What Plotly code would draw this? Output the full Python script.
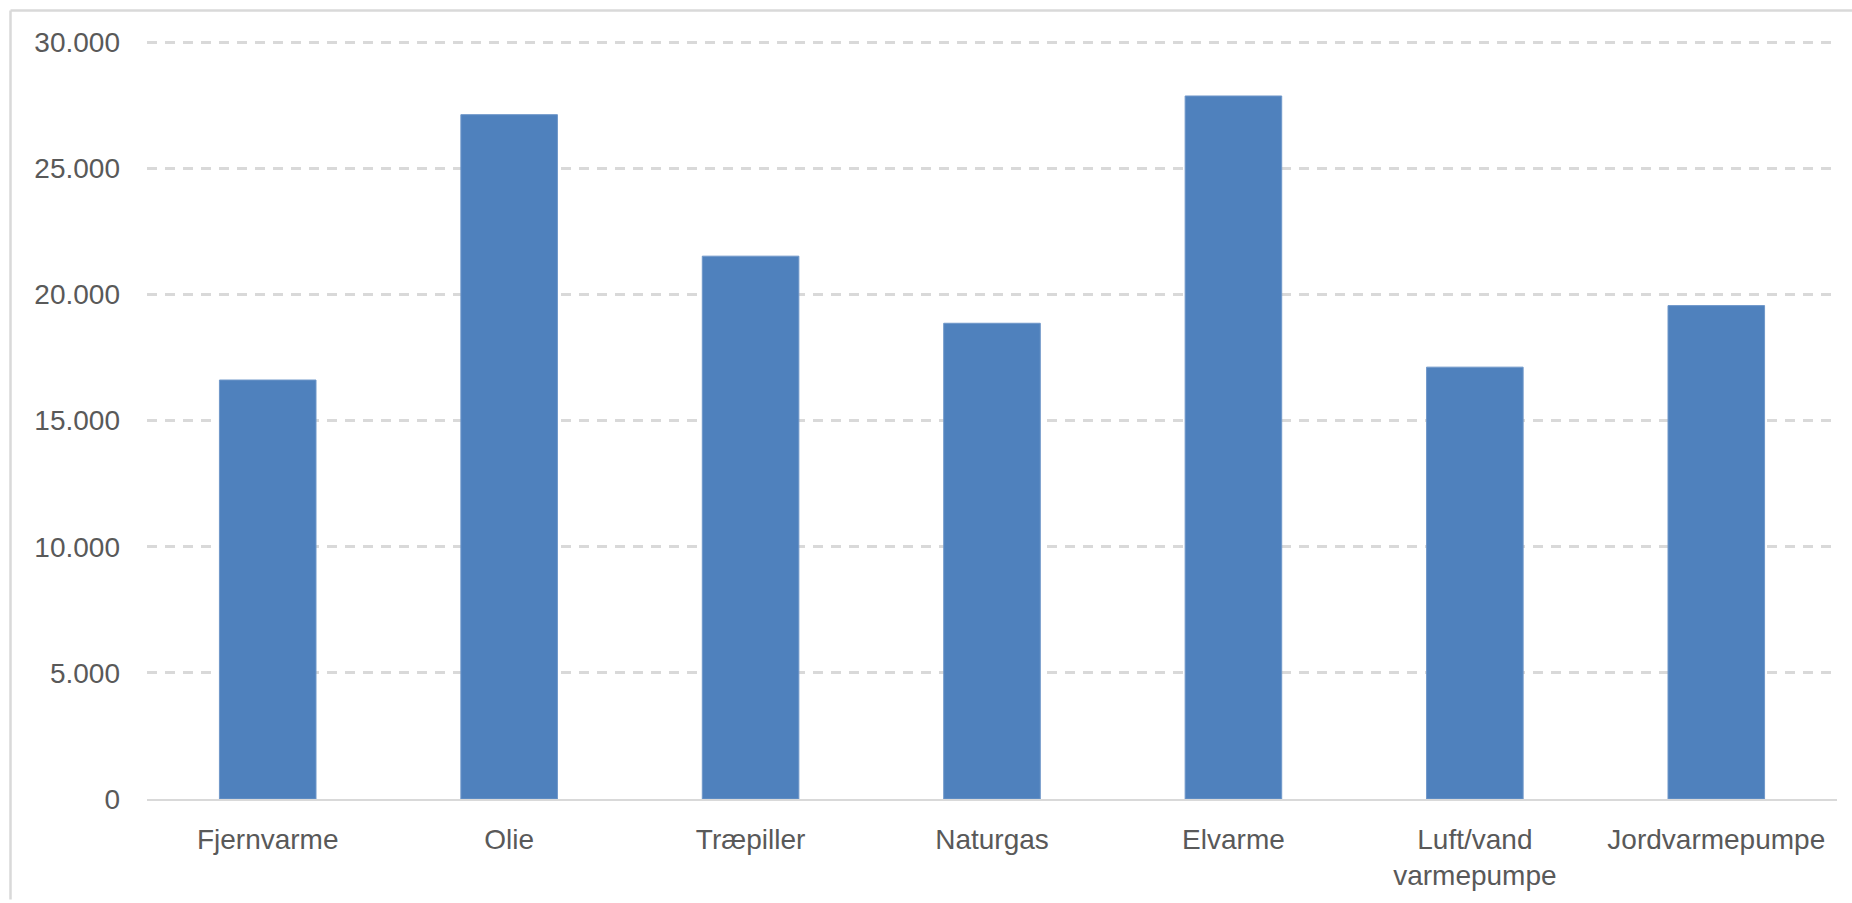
import plotly.graph_objects as go

categories = ["Fjernvarme", "Olie", "Træpiller", "Naturgas", "Elvarme", "Luft/vand<br>varmepumpe", "Jordvarmepumpe"]
values = [16610, 27130, 21520, 18860, 27870, 17120, 19560]
tick_vals = [0, 5000, 10000, 15000, 20000, 25000, 30000]
tick_text = ["0", "5.000", "10.000", "15.000", "20.000", "25.000", "30.000"]
y_max = 30050

W, H = 1852, 903
L, R, T, B = 147, 15, 41, 101
pw, ph = W - L - R, H - T - B

def px(x):
    return (x - L) / pw

def py(y):
    return (H - B - y) / ph

fig = go.Figure(go.Bar(
    x=categories, y=values,
    marker=dict(color="#4f81bd", line=dict(color="#6f97c9", width=1)),
))

fig.update_layout(
    width=W, height=H,
    margin=dict(l=L, r=R, t=T, b=B),
    paper_bgcolor="white", plot_bgcolor="white",
    bargap=0.6, showlegend=False,
    font=dict(family="Liberation Sans, Arial, sans-serif", size=28, color="#595959"),
    xaxis=dict(showline=True, linecolor="#d9d9d9", linewidth=2, showgrid=False,
               ticks="", ticklabelstandoff=14, tickfont=dict(size=28, color="#595959")),
    yaxis=dict(range=[0, y_max], tickvals=tick_vals, ticktext=tick_text,
               showgrid=True, gridcolor="#d9d9d9", gridwidth=2.5, griddash="10px,8px",
               zeroline=False, showline=False, ticks="", ticklabelstandoff=26,
               tickfont=dict(size=28, color="#595959")),
    shapes=[
        dict(type="line", xref="paper", yref="paper", x0=px(10.5), x1=px(W), y0=py(10.5), y1=py(10.5),
             line=dict(color="#d9d9d9", width=2.5)),
        dict(type="line", xref="paper", yref="paper", x0=px(10.5), x1=px(10.5), y0=py(10.5), y1=py(H),
             line=dict(color="#d9d9d9", width=2.5)),
    ],
)

fig.write_html("out.html", config={"displayModeBar": False},
               post_script="document.body.style.margin='0';")
